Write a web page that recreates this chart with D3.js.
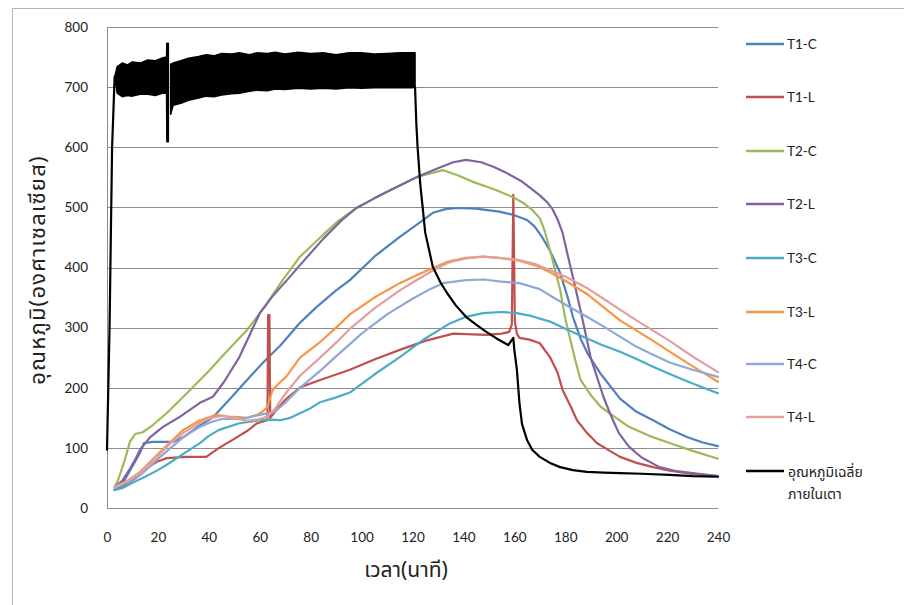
<!DOCTYPE html>
<html>
<head>
<meta charset="utf-8">
<script src="https://cdn.jsdelivr.net/npm/d3@7"></script>
<style>
  html, body { margin: 0; padding: 0; background: #fff; }
  svg { display: block; }
  .tick text, .lbl { font-family: Lato, "Open Sans", "Noto Sans", sans-serif; fill: #222; }
  .thai { font-family: "Noto Sans Thai", "Noto Sans", "DejaVu Sans", Lato, sans-serif; fill: #222; }
</style>
</head>
<body>
<svg id="chart" width="904" height="605"></svg>
<script>
// ---------------- DATA ----------------
const seriesNames = ["T1-C", "T1-L", "T2-C", "T2-L", "T3-C", "T3-L", "T4-C", "T4-L"];
const furnaceName = ["อุณหภูมิเฉลี่ย", "ภายในเตา"];
const xTicks = [0, 20, 40, 60, 80, 100, 120, 140, 160, 180, 200, 220, 240];
const yTicks = [0, 100, 200, 300, 400, 500, 600, 700, 800];
const xTitle = "เวลา(นาที)";
const yTitle = "อุณหภูมิ(องศาเซลเซียส)";

// [time (min), temperature (°C)]
const t1c = [[3,30],[6,40],[9,62],[13,92],[14.5,108],[18,110],[26,110],[30,118],[35,133],[41.6,151],[48,180],[55,213],[62,245],[68,270],[75.8,308],[82.5,335],[90,362],[95.4,379],[105,418],[115,451],[122,472],[128,491],[133,497],[137.5,499],[145,498],[154,493],[160,487],[165,479],[168,468],[171,450],[174,428],[178,391],[181,350],[183,318],[186,282],[189,255],[193.6,225],[201.5,182],[208,160],[214.5,146],[221,131],[227.8,118],[234,109],[240,103]];
const t1l = [[3,30],[8,40],[13,55],[17,70],[19.6,77],[23.5,83],[31,85],[39,85],[44,100],[50,115],[55,128],[59,141],[63,146],[63.3,321],[63.8,321],[64.1,150],[66,160],[70,180],[76,201],[83.7,213],[90,222],[95.4,230],[105,247],[115,263],[125,278],[136,290],[149,288],[155,290],[158,293],[159,305],[159.6,521],[160.2,310],[161,290],[162,283],[166,280],[170,274],[174,251],[177,225],[179,196],[182,170],[184.6,146],[188.5,125],[192.4,108],[197.5,95],[201.5,85],[208,75],[214.5,68],[221,62],[227.8,58],[234,55],[240,53]];
const t2c = [[3,35],[4.3,46],[7,80],[9,110],[11,123],[14,126],[18,138],[23.5,158],[30,185],[40,228],[48,265],[55,296],[62,335],[69,379],[75.8,418],[85,455],[91,478],[98,499],[105,515],[112,530],[122,551],[132,562],[138,553],[144,542],[152,530],[159.5,517],[164,506],[167,496],[170,482],[172,460],[174,429],[178,363],[180,315],[182,280],[184,245],[186,213],[190,188],[194,168],[200,150],[205,135],[213,120],[221,108],[230,95],[240,82]];
const t2l = [[3,35],[6,45],[9,65],[11,80],[13,97],[17,118],[22,135],[28,150],[36.5,175],[41.6,185],[46,210],[52,251],[60,324],[65,352],[70.7,379],[75.8,404],[85,448],[92,478],[98,499],[105,515],[112,530],[122,551],[130,565],[136,575],[141,579],[147,575],[152,567],[157,557],[163,543],[167,530],[170,520],[173,508],[175,497],[177,480],[179,457],[181,420],[183,384],[186,329],[188.5,280],[190,250],[192,224],[195,185],[197.5,158],[201,125],[205,102],[210,84],[217,68],[223,62],[230,58],[240,53]];
const t3c = [[3,30],[6,33],[10,42],[15,52],[20,63],[23.5,72],[30,90],[36.5,108],[40,120],[44,130],[52,141],[60,146],[64,147],[68,146],[72,150],[76,158],[80,166],[83.7,176],[90,184],[95.4,192],[105,222],[115,251],[125,282],[134.7,307],[141,318],[147.7,324],[155,326],[161,324],[167,319],[174,310],[180,298],[187,285],[194,272],[201.5,260],[208,248],[214.5,235],[221,223],[230,207],[240,191]];
const t3l = [[3,35],[8,45],[13,60],[19.6,88],[25,110],[30,130],[36.5,146],[43,155],[48,152],[52,151],[55,150],[59,155],[61,160],[63,168],[65,196],[67,205],[70.7,220],[75.8,250],[83.7,276],[90,300],[95.4,322],[105,350],[115,374],[122,388],[128,399],[134,410],[141,416],[147.7,418],[154,416],[161,412],[168,404],[174,392],[180,378],[188.5,356],[195,334],[201.5,312],[208,295],[214.5,278],[221,260],[230,236],[240,210]];
const t4c = [[3,33],[8,42],[13,55],[19.6,80],[25,100],[30,118],[36.5,135],[41,143],[45,148],[50,148],[55,150],[60,155],[66,160],[70,175],[75.8,200],[83.7,228],[91.5,258],[100,290],[110,322],[120,348],[126,362],[132,374],[141,379],[148,380],[154,377],[162,374],[170,364],[175,351],[181,336],[188.5,318],[195,302],[201.5,285],[208,268],[214.5,255],[221,242],[230,230],[240,218]];
const t4l = [[3,35],[8,45],[13,58],[19.6,85],[25,108],[30,125],[36.5,142],[41,150],[45,153],[50,150],[55,145],[60,148],[63,152],[66,165],[70,190],[75.8,220],[83.7,250],[90,275],[95.4,298],[105,332],[115,362],[122,380],[128,395],[134,408],[141,415],[147.7,418],[154,416],[161,413],[168,406],[174,396],[180,385],[188.5,366],[195,348],[201.5,330],[208,312],[214.5,295],[221,278],[230,252],[240,226]];
// furnace average: ramp-up, then cool-down line
const furnaceRise = [[0,97],[1,300],[2,600],[3,717]];
const furnaceFall = [[121,700],[121.5,640],[122,600],[123,541],[125,458],[128,401],[131,375],[133.5,358],[137,337],[141,318],[145,305],[149,293],[153,282],[157.6,271],[159.6,283],[160,263],[161,230],[162,175],[163,140],[165,113],[167,97],[170,85],[174,75],[178,68],[183,63],[188.5,60],[195,59],[201.5,58],[210,57],[221,55],[230,53],[240,52]];
// furnace oscillation envelope (time, high, low); null = gap
const bandTime = [3,4,6,8,10,13,16,19,22,23.4,23.5,24.1,null,25,26,29,32,36,39,42,45,49,52,56,59,63,66,70,75,80,85,90,95,100,105,110,115,120,121];
const bandHigh = [717,734,740,737,742,740,745,744,749,750,773,773,null,738,740,744,748,751,754,752,756,755,757,754,757,756,758,755,758,756,757,754,757,757,755,756,757,757,757];
const bandLow  = [717,690,684,686,685,688,688,686,690,690,609,609,null,655,670,673,678,682,685,684,687,689,690,693,695,694,697,696,698,697,698,697,699,698,699,699,699,699,700];

const colors = ["#4F81BD", "#C0504D", "#9BBB59", "#8064A2", "#4BACC6", "#F79646", "#8EA9D6", "#E0A09E"];
const seriesData = [t1c, t1l, t2c, t2l, t3c, t3l, t4c, t4l];

// ---------------- CHART ----------------
const svg = d3.select("#chart");
const W = 904, H = 605;
const x = d3.scaleLinear().domain([0, 240]).range([107, 718]);
const y = d3.scaleLinear().domain([0, 800]).range([508, 27]);

// outer chart border (only top/left visible)
svg.append("rect").attr("x", 12.5).attr("y", 8.5).attr("width", W).attr("height", H)
  .attr("fill", "none").attr("stroke", "#b4b4b4").attr("stroke-width", 1);

// gridlines
svg.append("g").selectAll("line").data(yTicks).join("line")
  .attr("x1", x(0)).attr("x2", x(240))
  .attr("y1", d => Math.round(y(d)) + 0.5).attr("y2", d => Math.round(y(d)) + 0.5)
  .attr("stroke", "#8c8c8c").attr("stroke-width", 1);
// left axis line
svg.append("line").attr("x1", Math.round(x(0)) + 0.5).attr("x2", Math.round(x(0)) + 0.5)
  .attr("y1", y(800)).attr("y2", y(0)).attr("stroke", "#8c8c8c");

// axes labels
const yAxis = d3.axisLeft(y).tickValues(yTicks).tickSize(0).tickPadding(19);
const gy = svg.append("g").attr("transform", `translate(${x(0)},0)`).call(yAxis);
gy.select(".domain").remove();
gy.selectAll("text").attr("font-size", 13.5);

const xAxis = d3.axisBottom(x).tickValues(xTicks).tickSize(0).tickPadding(24);
const gx = svg.append("g").attr("transform", `translate(0,${y(0)})`).call(xAxis);
gx.select(".domain").remove();
gx.selectAll("text").attr("font-size", 13.5);

// titles
svg.append("text").attr("class", "thai")
  .attr("x", 406).attr("y", 577).attr("text-anchor", "middle")
  .attr("font-size", 21).text(xTitle);
svg.append("text").attr("class", "thai")
  .attr("transform", "translate(45,270) rotate(-90)")
  .attr("text-anchor", "middle").attr("font-size", 22).attr("letter-spacing", 1.2).text(yTitle);

// series lines
const line = d3.line().x(d => x(d[0])).y(d => y(d[1]));
const plot = svg.append("g");
seriesData.forEach((data, i) => {
  plot.append("path").datum(data).attr("d", line)
    .attr("fill", "none").attr("stroke", colors[i]).attr("stroke-width", 2.2)
    .attr("stroke-linejoin", "round").attr("stroke-linecap", "round");
});

// furnace band
const band = bandTime.map((t, i) => ({ t, hi: bandHigh[i], lo: bandLow[i] }));
const area = d3.area().defined(d => d.t !== null)
  .x(d => x(d.t)).y0(d => y(d.lo)).y1(d => y(d.hi));
plot.append("path").datum(band).attr("d", area)
  .attr("fill", "#000").attr("stroke", "#000").attr("stroke-width", 1.5).attr("stroke-linejoin", "round");
[furnaceRise, furnaceFall].forEach(data => {
  plot.append("path").datum(data).attr("d", line)
    .attr("fill", "none").attr("stroke", "#000").attr("stroke-width", 2.2)
    .attr("stroke-linejoin", "round").attr("stroke-linecap", "round");
});

// legend
const legendY = [44, 97, 151, 204, 258, 312, 364, 417];
const lg = svg.append("g");
seriesNames.forEach((name, i) => {
  lg.append("line").attr("x1", 746).attr("x2", 784)
    .attr("y1", legendY[i]).attr("y2", legendY[i])
    .attr("stroke", colors[i]).attr("stroke-width", 2.5);
  lg.append("text").attr("class", "lbl").attr("x", 787).attr("y", legendY[i] + 5)
    .attr("font-size", 13.5).text(name);
});
lg.append("line").attr("x1", 746).attr("x2", 784).attr("y1", 471).attr("y2", 471)
  .attr("stroke", "#000").attr("stroke-width", 2.5);
furnaceName.forEach((t, i) => {
  lg.append("text").attr("class", "thai").attr("x", 788).attr("y", 477 + i * 22)
    .attr("font-size", 14).text(t);
});
</script>
</body>
</html>
